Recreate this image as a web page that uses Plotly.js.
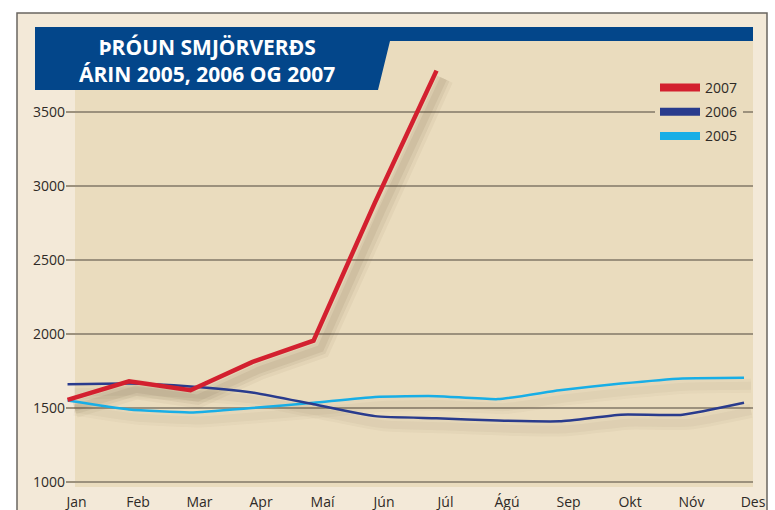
<!DOCTYPE html>
<html>
<head>
<meta charset="utf-8">
<script src="https://cdn.plot.ly/plotly-3.0.1.min.js"></script>
<style>html,body{margin:0;padding:0;background:#fff}#chart{width:775px;height:510px}</style>
</head>
<body>
<div id="chart"></div>
<script>
// ---- data ----
const months = ['Jan','Feb','Mar','Apr','Maí','Jún','Júl','Ágú','Sep','Okt','Nóv','Des'];
const years = ['2007','2006','2005'];
const y2007 = [1555, 1680, 1620, 1810, 1955, 2890, 3780];
const y2006 = [1660, 1665, 1645, 1605, 1525, 1445, 1430, 1415, 1410, 1455, 1455, 1535];
const y2005 = [1550, 1490, 1470, 1500, 1535, 1575, 1580, 1560, 1620, 1665, 1700, 1705];
const yTicks = [1000, 1500, 2000, 2500, 3000, 3500];
const titleLines = ['ÞRÓUN SMJÖRVERÐS', 'ÁRIN 2005, 2006 OG 2007'];

// ---- styling / geometry ----
const W = 775, H = 510;
const M = {l: 66, r: 22, t: 41, b: 23};
const plotW = W - M.l - M.r, plotH = H - M.t - M.b;
const px = x => (x - M.l) / plotW;
const py = y => (H - M.b - y) / plotH;
const xRange = [-0.025, 11.146];
const yRange = [966, 3980];
const pxPerX = plotW / (xRange[1] - xRange[0]);
const pxPerY = plotH / (yRange[1] - yRange[0]);
const dx = 7, dy = 8;
const xShadow = [xRange[0] - dx / pxPerX, xRange[1] - dx / pxPerX];
const yShadow = [yRange[0] + dy / pxPerY, yRange[1] + dy / pxPerY];

const colors = {'2007': '#d3202f', '2006': '#293b8d', '2005': '#18aee6'};
const series = {'2007': y2007, '2006': y2006, '2005': y2005};
const widths = {'2007': 4.5, '2006': 2.5, '2005': 2.5};
const shapes_ = {'2007': 'linear', '2006': 'spline', '2005': 'spline'};

const traces = [];
// legend entries (no drawn data) on base axes
years.forEach(yr => {
  traces.push({
    x: months, y: months.map(() => null), type: 'scatter', mode: 'lines',
    name: yr, line: {color: colors[yr], width: 8},
    xaxis: 'x', yaxis: 'y', hoverinfo: 'skip', legendgroup: yr
  });
});
// soft shadows (several translucent layers)
const shadowLayers = {
  '2007': [[20, 0.05], [13, 0.07], [7, 0.08]],
  '2006': [[14, 0.035], [8, 0.045]],
  '2005': [[14, 0.03], [8, 0.035]]
};
['2005', '2006', '2007'].forEach(yr => {
  const ys = series[yr];
  shadowLayers[yr].forEach(([w, a]) => {
    traces.push({
      x: months.slice(0, ys.length), y: ys, type: 'scatter', mode: 'lines',
      line: {color: `rgba(90,70,40,${a})`, width: w, shape: shapes_[yr], smoothing: 0.5},
      xaxis: 'x2', yaxis: 'y2', showlegend: false, hoverinfo: 'skip'
    });
  });
});
// main lines
['2005', '2006', '2007'].forEach(yr => {
  const ys = series[yr];
  traces.push({
    x: months.slice(0, ys.length), y: ys, type: 'scatter', mode: 'lines',
    name: yr, line: {color: colors[yr], width: widths[yr], shape: shapes_[yr], smoothing: 0.5},
    xaxis: 'x3', yaxis: 'y3', showlegend: false
  });
});

const catAxis = {type: 'category', categoryorder: 'array', categoryarray: months};
const hiddenX = r => Object.assign({}, catAxis, {range: r, visible: false, overlaying: 'x', fixedrange: true});
const hiddenY = r => ({range: r, visible: false, overlaying: 'y', fixedrange: true});

const banner = `M${px(35)},${py(27)} L${px(753)},${py(27)} L${px(753)},${py(41)} L${px(390)},${py(41)} L${px(378)},${py(90)} L${px(35)},${py(90)} Z`;

const layout = {
  width: W, height: H, margin: M,
  paper_bgcolor: '#ffffff', plot_bgcolor: 'rgba(0,0,0,0)',
  font: {family: '"Open Sans", "DejaVu Sans", sans-serif', color: '#2e2a26', size: 14},
  showlegend: true,
  legend: {
    x: px(655), xanchor: 'left', y: py(72), yanchor: 'top',
    bgcolor: '#eadcbe', borderwidth: 0, font: {size: 14, color: '#2e2a26'},
    traceorder: 'grouped', tracegroupgap: 3, itemwidth: 40
  },
  xaxis: Object.assign({}, catAxis, {
    range: xRange, showgrid: false, zeroline: false, showline: false, ticks: '',
    ticklabelshift: 9, ticklabelstandoff: 5, tickfont: {size: 14, color: '#2e2a26'}, fixedrange: true
  }),
  yaxis: {
    range: yRange, tickvals: yTicks, showgrid: true, gridcolor: '#9c917d', gridwidth: 1.5,
    zeroline: false, showline: false, ticks: '', tickfont: {size: 14, color: '#2e2a26'},
    fixedrange: true
  },
  xaxis2: hiddenX(xShadow), yaxis2: hiddenY(yShadow),
  xaxis3: hiddenX(xRange), yaxis3: hiddenY(yRange),
  shapes: [
    {type: 'rect', xref: 'paper', yref: 'paper', x0: px(17), x1: px(767), y0: py(540), y1: py(13),
     fillcolor: '#f3e9d8', line: {color: '#6a6560', width: 1.5}, layer: 'below'},
    {type: 'rect', xref: 'paper', yref: 'paper', x0: px(75), x1: px(753), y0: py(487), y1: py(41),
     fillcolor: '#eadcbe', line: {width: 0}, layer: 'below'},
    {type: 'path', xref: 'paper', yref: 'paper', path: banner,
     fillcolor: '#03468a', line: {width: 0}, layer: 'below'}
  ],
  annotations: [
    {xref: 'paper', yref: 'paper', x: px(207), y: py(60.5), xanchor: 'center', yanchor: 'middle',
     text: titleLines.join('<br>'), showarrow: false, align: 'center',
     font: {family: '"Open Sans", sans-serif', size: 21, color: '#ffffff', weight: 'bold'}}
  ]
};

Plotly.newPlot('chart', traces, layout, {displayModeBar: false, staticPlot: true});
</script>
</body>
</html>
